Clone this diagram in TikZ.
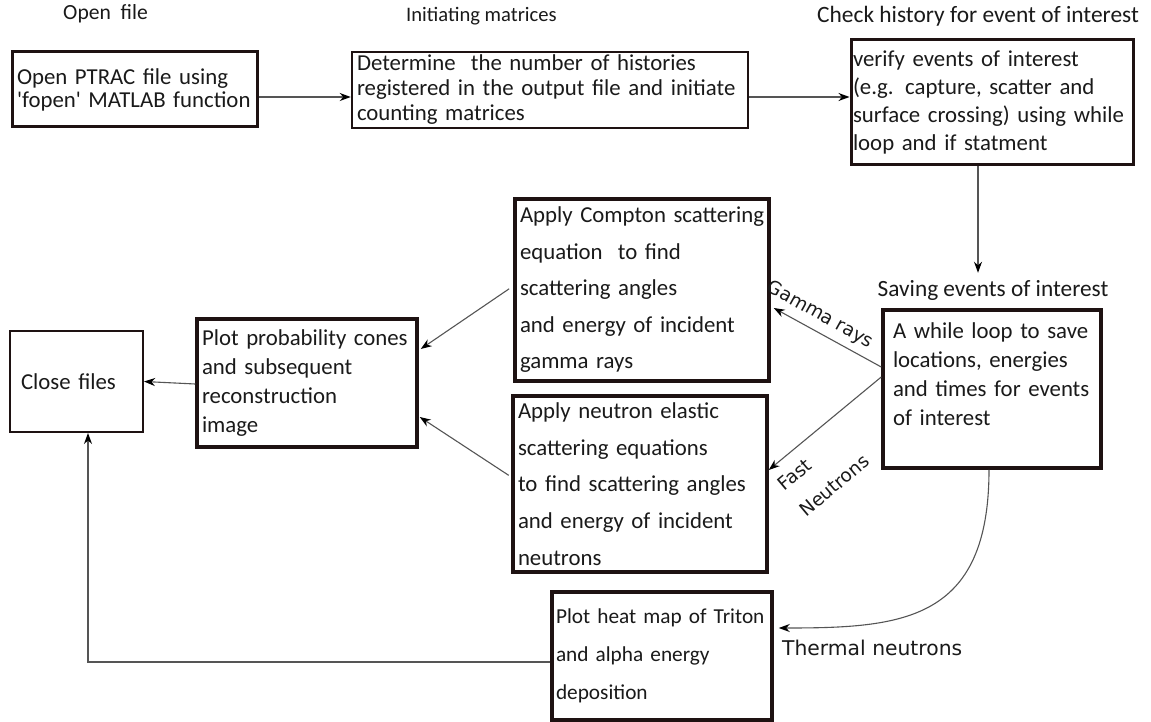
\documentclass[tikz,border=0pt]{standalone}
\usepackage{fontspec}
\setmainfont{Carlito}
\newfontfamily\lblfont{DejaVu Sans}
\usetikzlibrary{arrows.meta,calc}
\definecolor{boxc}{HTML}{1E1212}
\definecolor{linec}{HTML}{555555}
\definecolor{txt}{HTML}{1A1A1A}
\newcommand\myl[1]{\mbox{#1}}
\tikzset{
  box/.style={draw=boxc, line width=3pt, align=left, inner xsep=5pt, inner ysep=0pt, text=txt},
  arr/.style={draw=linec, line width=1.1pt, -{Stealth[length=11pt,width=8pt,inset=3.5pt,black]}},
  lbl/.style={text=txt, inner sep=0pt},
  rlbl/.style={text=txt, font=\lblfont\fontsize{18.5}{22}\selectfont, inner sep=0pt}
}
\begin{document}
\begin{tikzpicture}[x=1pt,y=-1pt]
\useasboundingbox[fill=white] (0,0) rectangle (1151,722);
% top labels
\node[lbl, anchor=west, font=\fontsize{21.6}{26}\selectfont] (t1) at (63,14) {Open~ file};
\node[lbl, anchor=west, font=\fontsize{20.6}{25}\selectfont] (t2) at (406,16) {Initiating matrices};
\node[lbl, anchor=west, font=\fontsize{23.4}{28}\selectfont] (t3) at (817,16) {Check history for event of interest};
% boxes
\node[box, text width=235pt, minimum height=75pt, font=\fontsize{22.8}{23}\selectfont] (b1) at (134.5,89.5)
  {\myl{Open PTRAC file using}\\\myl{\textquotesingle fopen\textquotesingle{} MATLAB function}};
\node[box, line width=2.5pt, text width=386pt, minimum height=76pt, font=\fontsize{22.8}{25}\selectfont] (b2) at (550,90)
  {\myl{Determine~ the number of histories}\\\myl{registered in the output file and initiate}\\\myl{counting matrices}};
\node[box, inner xsep=2pt, text width=278pt, minimum height=125pt, font=\fontsize{22.8}{28}\selectfont] (b3) at (992,102.5)
  {\myl{verify events of interest}\\\myl{(e.g. capture, scatter and}\\\myl{surface crossing) using while}\\\myl{loop and if statment}};
\node[lbl, font=\fontsize{23.3}{28}\selectfont] (savelbl) at (993,290) {Saving events of interest};
\node[box, line width=3.5pt, inner xsep=10pt, text width=198pt, minimum height=158pt, font=\fontsize{22.8}{29}\selectfont] (save) at (992,389)
  {\myl{A while loop to save}\\\myl{locations, energies}\\\myl{and times for events}\\\myl{of interest}\\\mbox{}};
\node[box, line width=3.5pt, text width=244pt, minimum height=182pt, font=\fontsize{22.8}{36.5}\selectfont] (comp) at (642,290)
  {\myl{Apply Compton scattering}\\\myl{equation~ to find}\\\myl{scattering angles}\\\myl{and energy of incident}\\\myl{gamma rays}};
\node[box, line width=3.5pt, text width=244pt, minimum height=176pt, font=\fontsize{22.8}{36.7}\selectfont] (neut) at (640,484)
  {\myl{Apply neutron elastic}\\\myl{scattering equations}\\\myl{to find scattering angles}\\\myl{and energy of incident}\\\myl{neutrons}};
\node[box, line width=3.5pt, text width=210pt, minimum height=128pt, font=\fontsize{22.8}{29.3}\selectfont] (plot) at (307,383)
  {\myl{Plot probability cones}\\\myl{and subsequent}\\\myl{reconstruction}\\\myl{image}};
\node[box, line width=2pt, inner xsep=11pt, text width=111pt, minimum height=101pt, font=\fontsize{22.8}{24}\selectfont] (close) at (76.5,381.5)
  {\myl{Close files}};
\node[box, line width=3.5pt, inner xsep=4pt, text width=212pt, minimum height=128pt, font=\fontsize{21.3}{38}\selectfont] (triton) at (662,656)
  {\myl{Plot heat map of Triton}\\\myl{and alpha energy}\\\myl{deposition}};
% connectors
\draw[arr] ([yshift=-7.5pt]b1.east) -- ([yshift=-7pt]b2.west);
\draw[arr] ([yshift=-7pt]b2.east) -- ([yshift=5.5pt]b3.west);
\draw[arr] ([xshift=-14pt]b3.south) -- ([xshift=-14pt,yshift=7pt]b3.south |- savelbl.north);
\draw[arr] ([yshift=22pt]save.west) -- ([xshift=3pt,yshift=-18pt]comp.east);
\draw[arr] ([yshift=12pt]save.west) -- ([yshift=14pt]neut.east);
\draw[arr, shorten <=5pt] ([yshift=4pt]comp.west) -- ([xshift=2pt,yshift=34pt]plot.east);
\draw[arr, shorten <=3pt] ([yshift=7pt]neut.west) -- ([xshift=1pt,yshift=-34pt]plot.east);
\draw[arr] ([yshift=-1pt]plot.west) -- (close.east);
\draw[arr] ([yshift=-6pt]triton.west) -| ([xshift=11.5pt]close.south);
\draw[arr] ([xshift=-3pt]save.south) .. controls +(0,152) and +(123,0) .. ([xshift=5pt,yshift=28pt]triton.east);
% connector labels
\node[rlbl, rotate=-29] (lg) at (820,315) {Gamma rays};
\node[rlbl, rotate=40, align=left, font=\lblfont\fontsize{18.5}{34}\selectfont] (lf) at (823.5,472.5) {Fast\\Neutrons};
\node[rlbl, anchor=west, font=\lblfont\fontsize{20.3}{24}\selectfont] (lt) at (782,648) {Thermal neutrons};
\end{tikzpicture}
\end{document}
